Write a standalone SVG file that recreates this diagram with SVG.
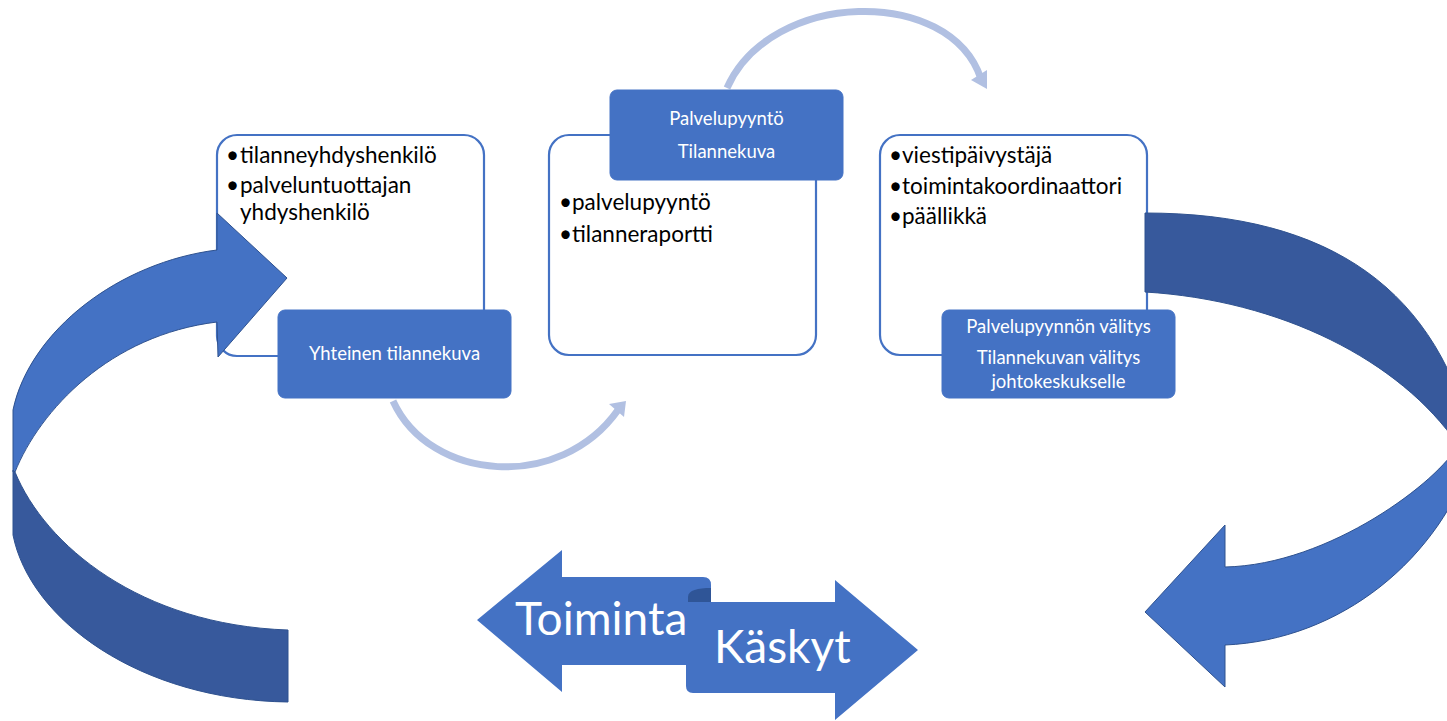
<svg xmlns="http://www.w3.org/2000/svg" width="1447" height="721" viewBox="0 0 1447 721">
<defs>
<style>
.box{fill:#FFFFFF;stroke:#4472C4;stroke-width:2.2}
.lbl{fill:#4472C4;stroke:#4472C4;stroke-width:1}
.lt{font-family:Lato,"Open Sans",sans-serif;font-size:18.5px;fill:#FFFFFF;text-anchor:middle}
.bt{font-family:Lato,"Open Sans",sans-serif;font-size:22.5px;fill:#000000}
.big{font-family:Lato,"Open Sans",sans-serif;font-size:46px;fill:#FFFFFF}
.arc{fill:none;stroke:#B1C0E2;stroke-width:7}
.ah{fill:#B1C0E2}
.fr{fill:#4472C4;stroke:#2F528F;stroke-width:1}
.bk{fill:#37599C;stroke:#2F528F;stroke-width:1}
</style>
</defs>
<rect width="1447" height="721" fill="#FFFFFF"/>
<g id="connectors">
<path class="arc" d="M393,401 C430,482 560,492 618,410"/>
<polygon class="ah" points="626,401 609,404 624,417"/>
<path class="arc" d="M727,88 C770,-10 950,-15 981,79"/>
<polygon class="ah" points="987,89 971,80 987,70"/>
</g>
<g id="box-left">
<rect class="box" x="217" y="135" width="267" height="221" rx="20"/>
<text class="bt" y="163"><tspan x="226">•</tspan><tspan x="240">tilanneyhdyshenkilö</tspan></text>
<text class="bt" y="193"><tspan x="226">•</tspan><tspan x="240">palveluntuottajan</tspan></text>
<text class="bt" x="240" y="220">yhdyshenkilö</text>
</g>
<g id="box-middle">
<rect class="box" x="549" y="135" width="267" height="220" rx="20"/>
<text class="bt" y="210"><tspan x="559">•</tspan><tspan x="572">palvelupyyntö</tspan></text>
<text class="bt" y="242"><tspan x="559">•</tspan><tspan x="572">tilanneraportti</tspan></text>
</g>
<g id="box-right">
<rect class="box" x="880" y="135" width="267" height="220" rx="20"/>
<text class="bt" y="163"><tspan x="889">•</tspan><tspan x="902">viestipäivystäjä</tspan></text>
<text class="bt" y="194"><tspan x="889">•</tspan><tspan x="902">toimintakoordinaattori</tspan></text>
<text class="bt" y="224"><tspan x="889">•</tspan><tspan x="902">päällikkä</tspan></text>
</g>
<g id="arrow-left">
<path class="fr" d="M217,250 C120,262 30,330 13,410 L13,472 L15,472 C40,410 110,335 217,322 L218,357 L287,278 L217,213 Z"/>
<path class="bk" d="M13,470 L13,535 C30,620 140,700 288,702 L288,630 C140,625 45,545 15,472 Z"/>
</g>
<g id="arrow-right">
<path class="bk" d="M1145,213 C1330,213 1440,290 1475,450 L1458,445 C1400,360 1280,300 1145,292 Z"/>
<path class="fr" d="M1475,450 C1440,560 1340,640 1225,645 L1225,687 L1145,612 L1225,525 L1225,567 C1330,565 1440,480 1458,445 Z"/>
</g>
<g id="label-yhteinen">
<rect class="lbl" x="278" y="310" width="233" height="88" rx="7"/>
<text class="lt" x="394.5" y="360">Yhteinen tilannekuva</text>
</g>
<g id="label-palvelupyynto">
<rect class="lbl" x="610" y="90" width="233" height="90" rx="7"/>
<text class="lt" x="726.5" y="125">Palvelupyyntö</text>
<text class="lt" x="726.5" y="158">Tilannekuva</text>
</g>
<g id="label-valitys">
<rect class="lbl" x="942" y="310" width="233" height="88" rx="7"/>
<text class="lt" x="1058.5" y="333">Palvelupyynnön välitys</text>
<text class="lt" x="1058.5" y="364">Tilannekuvan välitys</text>
<text class="lt" x="1058.5" y="388">johtokeskukselle</text>
</g>
<g id="toiminta-kaskyt">
<path fill="#4472C4" d="M477,620 L562,550 L562,577 L703,577 Q711,577 711,585 L711,665 L562,665 L562,692 Z"/>
<path fill="#2F5597" d="M688,603 L688,597 C688,590 698,588 711,588 L711,603 Z"/>
<path fill="#4472C4" d="M686,602 L835,602 L835,580 L918,650 L835,720 L835,693 L693,693 Q686,693 686,686 Z"/>
<text class="big" x="515" y="635">Toiminta</text>
<text class="big" x="714" y="663">Käskyt</text>
</g>
</svg>
